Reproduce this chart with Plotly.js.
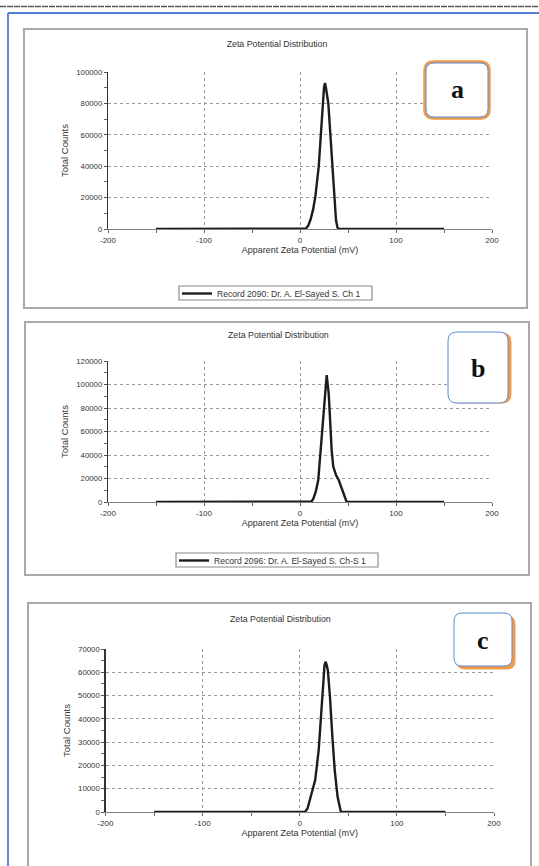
<!DOCTYPE html>
<html>
<head>
<meta charset="utf-8">
<script src="https://cdn.plot.ly/plotly-3.0.1.min.js"></script>
<style>
html,body{margin:0;padding:0;background:#fff;}
#chart{width:539px;height:866px;}
</style>
</head>
<body>
<div id="chart"></div>
<script>
// ---- data ----
const chartTitle = "Zeta Potential Distribution";
const xTitle = "Apparent Zeta Potential (mV)";
const yTitle = "Total Counts";
const panelLabels = ["a", "b", "c"];
const seriesNames = [
  "Record 2090: Dr. A. El-Sayed S. Ch 1",
  "Record 2096: Dr. A. El-Sayed S. Ch-S 1",
  "Record 2097: Dr. A. El-Sayed S. Ch-S 2"
];
const xTickVals = [-200, -100, 0, 100, 200];
const xTickText = ["-200", "-100", "0", "100", "200"];

const zetaA = [-150, 0, 4, 6, 8.5, 10.8, 13.5, 16, 19.5, 22, 23.6, 25, 26, 27, 29.5, 31.6, 33.7, 35.8, 37.5, 39, 40, 150];
const countsA = [0, 0, 0, 300, 2000, 5700, 12000, 20600, 39700, 61000, 80000, 90000, 93000, 90000, 80000, 61000, 39700, 20600, 5700, 1000, 0, 0];

const zetaB = [-150, 0, 10, 12, 14, 16.5, 19, 21.5, 23.6, 25.7, 27.8, 29.9, 31.3, 33, 34.7, 37.5, 40.3, 43.4, 46.2, 48.6, 150];
const countsB = [0, 0, 0, 300, 3000, 9000, 18700, 44000, 70000, 92500, 108000, 92500, 70000, 44000, 30000, 23000, 18700, 11600, 4500, 0, 0];

const zetaC = [-150, 0, 5.3, 8, 10.6, 13.5, 15.9, 19.5, 21.9, 24, 25.5, 26.5, 27.5, 28.9, 31.1, 33.6, 36, 38.9, 41, 42.4, 150];
const countsC = [0, 0, 0, 1500, 5200, 10000, 13700, 26600, 42300, 56600, 63000, 64500, 63500, 61000, 49500, 32300, 18000, 6600, 1500, 0, 0];

const yMaxA = 100000, yStepA = 20000;
const yMaxB = 120000, yStepB = 20000;
const yMaxC = 70000,  yStepC = 10000;

// ---- layout helpers (pixel -> paper) ----
const W = 539, H = 866;
const px = v => v / W;
const py = v => 1 - v / H;
const FONT = "Liberation Sans, Arial, sans-serif";
const TXT = "#333333";

function xAxis(anchor, left, right) {
  return {
    domain: [px(left), px(right)], anchor: anchor,
    range: [-200, 200], tickmode: "array", tickvals: xTickVals, ticktext: xTickText,
    showgrid: true, gridcolor: "#999999", griddash: "dot", gridwidth: 1,
    zeroline: false, showline: true, linecolor: "#808080", linewidth: 1,
    ticks: "outside", ticklen: 3, tickcolor: "#666",
    minor: {dtick: 50, tick0: 0, ticks: "outside", ticklen: 3, tickcolor: "#666", showgrid: false},
    tickfont: {family: FONT, size: 8, color: TXT},
    title: {text: xTitle, font: {family: FONT, size: 9, color: TXT}, standoff: 3},
    fixedrange: true
  };
}
function yAxis(anchor, top, bottom, ymax, step) {
  return {
    domain: [py(bottom), py(top)], anchor: anchor,
    range: [0, ymax], dtick: step, tick0: 0, tickformat: "d",
    showgrid: true, gridcolor: "#999999", griddash: "dot", gridwidth: 1,
    zeroline: false, showline: true, linecolor: "#333", linewidth: 1.2,
    ticks: "outside", ticklen: 3, tickcolor: "#555",
    minor: {dtick: step / 2, tick0: 0, ticks: "outside", ticklen: 3, tickcolor: "#666", showgrid: false},
    tickfont: {family: FONT, size: 7.8, color: TXT},
    title: {text: yTitle, font: {family: FONT, size: 9.5, color: TXT}, standoff: 5},
    fixedrange: true
  };
}
function rrect(x0, y0, x1, y1, r) {
  const X = v => px(v), Y = v => py(v);
  return "M " + X(x0 + r) + "," + Y(y0) +
    " L " + X(x1 - r) + "," + Y(y0) +
    " Q " + X(x1) + "," + Y(y0) + " " + X(x1) + "," + Y(y0 + r) +
    " L " + X(x1) + "," + Y(y1 - r) +
    " Q " + X(x1) + "," + Y(y1) + " " + X(x1 - r) + "," + Y(y1) +
    " L " + X(x0 + r) + "," + Y(y1) +
    " Q " + X(x0) + "," + Y(y1) + " " + X(x0) + "," + Y(y1 - r) +
    " L " + X(x0) + "," + Y(y0 + r) +
    " Q " + X(x0) + "," + Y(y0) + " " + X(x0 + r) + "," + Y(y0) + " Z";
}
function pshape(path, line, width, fill) {
  return {type: "path", xref: "paper", yref: "paper", path: path,
          line: {color: line, width: width}, fillcolor: fill || "rgba(0,0,0,0)", layer: "above"};
}
function rectShape(x0, y0, x1, y1, color, width, fill) {
  return {type: "rect", xref: "paper", yref: "paper",
          x0: px(x0), x1: px(x1), y0: py(y1), y1: py(y0),
          line: {color: color, width: width}, fillcolor: fill || "rgba(0,0,0,0)", layer: "below"};
}
function lineShape(x0, y0, x1, y1, color, width, dash) {
  return {type: "line", xref: "paper", yref: "paper", x0: px(x0), x1: px(x1), y0: py(y0), y1: py(y1),
          line: {color: color, width: width, dash: dash || "solid"}, layer: "below"};
}

const lineStyle = {color: "#1c1c1c", width: 2.4};
const traces = [
  {x: zetaA, y: countsA, type: "scatter", mode: "lines", name: seriesNames[0], line: lineStyle, xaxis: "x", yaxis: "y", legend: "legend", hoverinfo: "skip"},
  {x: zetaB, y: countsB, type: "scatter", mode: "lines", name: seriesNames[1], line: lineStyle, xaxis: "x2", yaxis: "y2", legend: "legend2", hoverinfo: "skip"},
  {x: zetaC, y: countsC, type: "scatter", mode: "lines", name: seriesNames[2], line: lineStyle, xaxis: "x3", yaxis: "y3", showlegend: false, hoverinfo: "skip"}
];

const legendStyle = (x, y) => ({
  x: px(x), y: py(y), xanchor: "left", yanchor: "top", xref: "paper", yref: "paper",
  bgcolor: "rgba(0,0,0,0)", bordercolor: "rgba(0,0,0,0)", borderwidth: 0,
  font: {family: FONT, size: 8.6, color: TXT}, itemwidth: 30
});

const shapes = [
  // top dashed rule
  lineShape(0, 6.5, 539, 6.5, "#555", 1.5, "6px,1px"),
  // blue frame (top and left edges; right/bottom run off the page)
  lineShape(8, 13, 539, 13, "#4f7fd6", 1.8),
  lineShape(8, 13, 8, 866, "#4f7fd6", 1.8),
  // panel frames
  rectShape(24, 29, 527, 308, "#a9a9a9", 2),
  rectShape(25, 322, 529, 575, "#a9a9a9", 2),
  rectShape(28, 603, 531, 900, "#a9a9a9", 2),
  // legend frames
  rectShape(179, 286, 372, 300, "#8a8a8a", 1.2, "#ffffff"),
  rectShape(176, 553, 378, 567, "#8a8a8a", 1.2, "#ffffff"),
  // label a: orange glow all round
  pshape(rrect(425, 62, 489, 118, 9), "#f29a4c", 3.5, "#f29a4c"),
  pshape(rrect(426, 63, 488, 117, 8), "#5b8ed8", 1, "#ffffff"),
  // label b: orange shadow to the right
  pshape(rrect(451, 333, 511, 403, 9), "#f29a4c", 1, "#f29a4c"),
  pshape(rrect(448, 332, 508, 403, 9), "#5b8ed8", 1, "#ffffff"),
  // label c: orange shadow right/bottom
  pshape(rrect(457, 616, 515, 669, 8), "#f29a4c", 1, "#f29a4c"),
  pshape(rrect(454, 613, 512, 666, 8), "#5b8ed8", 1, "#ffffff")
];

const titleFont = {family: FONT, size: 8.8, color: TXT};
const labelFont = {family: "Liberation Serif, Times New Roman, serif", size: 26, color: "#111"};
const annotations = [
  {text: chartTitle, xref: "paper", yref: "paper", x: px(278), y: py(335), xanchor: "center", yanchor: "middle", showarrow: false, font: titleFont},
  {text: chartTitle, xref: "paper", yref: "paper", x: px(280), y: py(619), xanchor: "center", yanchor: "middle", showarrow: false, font: titleFont},
  {text: "<b>" + panelLabels[0] + "</b>", xref: "paper", yref: "paper", x: px(457), y: py(90), xanchor: "center", yanchor: "middle", showarrow: false, font: labelFont},
  {text: "<b>" + panelLabels[1] + "</b>", xref: "paper", yref: "paper", x: px(478), y: py(368), xanchor: "center", yanchor: "middle", showarrow: false, font: labelFont},
  {text: "<b>" + panelLabels[2] + "</b>", xref: "paper", yref: "paper", x: px(483), y: py(640), xanchor: "center", yanchor: "middle", showarrow: false, font: labelFont}
];

const layout = {
  width: W, height: H, margin: {l: 0, r: 0, t: 0, b: 0, pad: 0},
  paper_bgcolor: "#ffffff", plot_bgcolor: "#ffffff",
  title: {text: chartTitle, font: titleFont, x: px(277), xanchor: "center", xref: "paper", y: py(44), yanchor: "middle", yref: "paper"},
  xaxis: xAxis("y", 108, 492),
  yaxis: yAxis("x", 72, 229, yMaxA, yStepA),
  xaxis2: xAxis("y2", 108, 492),
  yaxis2: yAxis("x2", 361, 502, yMaxB, yStepB),
  xaxis3: xAxis("y3", 105.5, 494),
  yaxis3: yAxis("x3", 649, 812, yMaxC, yStepC),
  showlegend: true,
  legend: legendStyle(177, 279),
  legend2: legendStyle(174, 546),
  shapes: shapes,
  annotations: annotations
};

Plotly.newPlot("chart", traces, layout, {staticPlot: true, displayModeBar: false});
</script>
</body>
</html>
